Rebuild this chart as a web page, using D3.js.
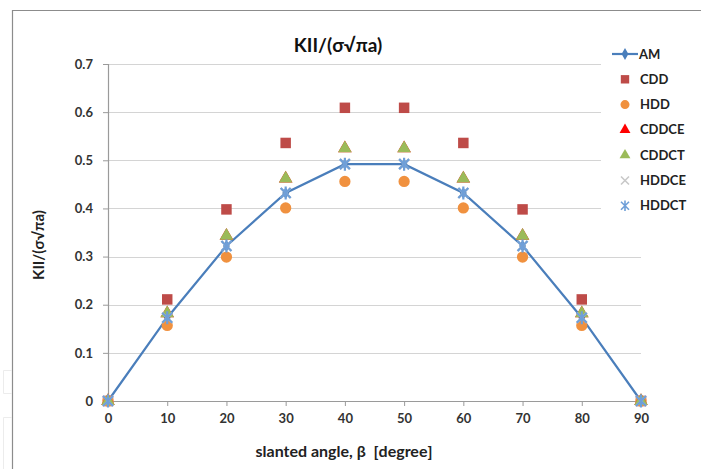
<!DOCTYPE html>
<html><head><meta charset="utf-8">
<script src="https://cdn.jsdelivr.net/npm/d3@7"></script>
<style>
body{margin:0;background:#fff;}
svg{display:block;font-family:Lato,"Open Sans",sans-serif;font-weight:bold;}
</style></head>
<body>
<svg id="c" width="701" height="469"></svg>
<script>
const angles = [0,10,20,30,40,50,60,70,80,90];
const AM    = [0,0.173,0.322,0.432,0.492,0.492,0.432,0.322,0.173,0];
const CDD   = [0,0.211,0.398,0.536,0.609,0.609,0.536,0.398,0.211,0];
const HDD   = [0,0.157,0.299,0.401,0.456,0.456,0.401,0.299,0.157,0];
const CDDCE = [0,0.182,0.343,0.462,0.525,0.525,0.462,0.343,0.182,0];
const CDDCT = [0,0.182,0.343,0.462,0.525,0.525,0.462,0.343,0.182,0];
const HDDCE = [0,0.173,0.322,0.432,0.492,0.492,0.432,0.322,0.173,0];
const HDDCT = [0,0.173,0.322,0.432,0.492,0.492,0.432,0.322,0.173,0];
const xTicks = [0,10,20,30,40,50,60,70,80,90];
const yTicks = [0,0.1,0.2,0.3,0.4,0.5,0.6,0.7];
const seriesNames = ["AM","CDD","HDD","CDDCE","CDDCT","HDDCE","HDDCT"];

const svg = d3.select("#c");
const x = d3.scaleLinear().domain([0,90]).range([108,641]);
const y = d3.scaleLinear().domain([0,0.7]).range([401,64]);

// outer frame (cropped)
svg.append("path").attr("d","M12.5,469 V10.5 H701").attr("fill","none").attr("stroke","#8c8c8c").attr("stroke-width",1.2);
// faint artefact boxes at left
svg.append("path").attr("d","M12,370.5 H3.5 V393.5 H12 M12,417.5 H3.5 V469").attr("fill","none").attr("stroke","#ececec");

// gridlines
svg.append("g").selectAll("line").data(yTicks.filter(d=>d>0)).join("line")
  .attr("x1",x(0)).attr("x2",x(90))
  .attr("y1",d=>Math.round(y(d))+0.5).attr("y2",d=>Math.round(y(d))+0.5)
  .attr("stroke","#d4d4d4").attr("stroke-width",1.2);

// axes
const yAxis = svg.append("g").attr("transform",`translate(${x(0)},0)`)
  .call(d3.axisLeft(y).tickValues(yTicks).tickFormat(d=>d===0?"0":d3.format(".1f")(d)).tickSize(5).tickPadding(10));
const xAxis = svg.append("g").attr("transform",`translate(0,${y(0)})`)
  .call(d3.axisBottom(x).tickValues(xTicks).tickSize(5).tickPadding(8));
[yAxis,xAxis].forEach(a=>{
  a.select(".domain").attr("stroke","#9a9a9a").attr("stroke-width",1.2);
  a.selectAll(".tick line").attr("stroke","#9a9a9a");
  a.selectAll("text").attr("font-family","Lato,'Open Sans',sans-serif").attr("font-weight","bold")
    .attr("font-size",13).attr("fill","#333");
});

// symbols
const sq = d3.symbol().type(d3.symbolSquare).size(110);
const ci = d3.symbol().type(d3.symbolCircle).size(100);
const tr = d3.symbol().type(d3.symbolTriangle).size(80);
const di = d3.symbol().type(d3.symbolDiamond).size(40);
const crossPath = (s)=>`M${-s},${-s}L${s},${s}M${-s},${s}L${s},${-s}`;
const starPath = (s)=>`M${-s},${-s}L${s},${s}M${-s},${s}L${s},${-s}M0,${-s*1.3}V${s*1.3}`;

const styles = {
  AM:{color:"#4a7ebb"},
  CDD:{color:"#be4b48",path:sq()},
  HDD:{color:"#f0913f",path:ci()},
  CDDCE:{color:"#ff0000",path:tr()},
  CDDCT:{color:"#9bbb59",path:tr()},
  HDDCE:{color:"#c8c8c8",stroke:true,path:crossPath(5)},
  HDDCT:{color:"#6f9fd8",stroke:true,path:starPath(5)}
};
const dataMap = {AM,CDD,HDD,CDDCE,CDDCT,HDDCE,HDDCT};

// AM line
const line = d3.line().x((d,i)=>x(angles[i])).y(d=>y(d));
svg.append("path").datum(AM).attr("d",line).attr("fill","none")
  .attr("stroke",styles.AM.color).attr("stroke-width",2.2);
svg.append("g").selectAll("path").data(AM).join("path")
  .attr("transform",(d,i)=>`translate(${x(angles[i])},${y(d)})`)
  .attr("d",di()).attr("fill",styles.AM.color);

seriesNames.slice(1).forEach(n=>{
  const st = styles[n];
  svg.append("g").selectAll("path").data(dataMap[n]).join("path")
    .attr("transform",(d,i)=>`translate(${x(angles[i])},${y(d)})`)
    .attr("d",st.path)
    .attr("fill",st.stroke?"none":st.color)
    .attr("stroke",st.stroke?st.color:"none")
    .attr("stroke-width",st.stroke?2.2:0);
});

// legend
const leg = svg.append("g");
leg.append("rect").attr("x",601).attr("y",40).attr("width",100).attr("height",184).attr("fill","#fff");
seriesNames.forEach((n,i)=>{
  const ly = 54 + i*25.3;
  const g = leg.append("g").attr("transform",`translate(625,${ly})`);
  const st = styles[n];
  if(n==="AM"){
    g.append("line").attr("x1",-13).attr("x2",13).attr("stroke",st.color).attr("stroke-width",2.2);
    g.append("path").attr("d",di()).attr("fill",st.color);
  } else {
    g.append("path").attr("d",st.path).attr("transform","scale(0.8)")
      .attr("fill",st.stroke?"none":st.color).attr("stroke",st.stroke?st.color:"none").attr("stroke-width",st.stroke?2:0);
  }
  g.append("text").attr("x",n==="AM"?14:15).attr("dy","0.35em").attr("font-size",13).attr("fill","#222").text(n);
});

// titles
svg.append("text").attr("x",338).attr("y",52).attr("text-anchor","middle").attr("font-size",19).attr("fill","#111").text("KII/(σ√πa)");
svg.append("text").attr("x",344).attr("y",457).attr("text-anchor","middle").attr("font-size",16).attr("fill","#222")
  .attr("xml:space","preserve").style("white-space","pre").text("slanted angle, β  [degree]");
svg.append("text").attr("transform","translate(44,245) rotate(-90)").attr("text-anchor","middle").attr("font-size",15).attr("fill","#222").text("KII/(σ√πa)");
</script>
</body></html>
